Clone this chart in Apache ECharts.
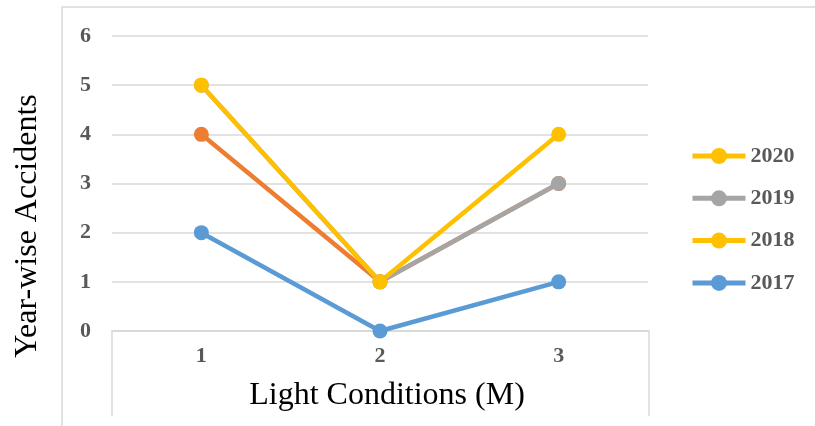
<!DOCTYPE html>
<html><head><meta charset="utf-8">
<script src="https://cdn.jsdelivr.net/npm/echarts@6/dist/echarts.min.js"></script>
<style>html,body{margin:0;padding:0;background:#fff}#c{width:815px;height:426px}</style>
</head><body><div id="c"></div>
<script>
var categories = ['1', '2', '3'];
var s2017 = [2, 0, 1];
var s2018 = [4, 1, 3];
var s2019 = [5, 1, 3];
var s2020 = [5, 1, 4];
var legendOrder = ['2020', '2019', '2018', '2017'];
var yTicks = [0, 1, 2, 3, 4, 5, 6];
var xTitle = 'Light Conditions (M)';
var yTitle = 'Year-wise Accidents';

var FONT = '"Liberation Serif", "Times New Roman", serif';
var chart = echarts.init(document.getElementById('c'));
function ser(name, data, color) {
  return {
    name: name, type: 'line', data: data, symbol: 'circle', symbolSize: 15,
    lineStyle: { width: 4.5, color: color }, itemStyle: { color: color },
    animation: false
  };
}
chart.setOption({
  backgroundColor: '#fff',
  grid: { left: 112, right: 167, top: 36, bottom: 95 },
  xAxis: {
    type: 'category', data: categories, boundaryGap: true,
    axisLine: { show: true, lineStyle: { color: '#d9d9d9', width: 1.5 } },
    axisTick: { show: false },
    axisLabel: { color: '#595959', fontFamily: FONT, fontWeight: 'bold', fontSize: 22, margin: 14 }
  },
  yAxis: {
    type: 'value', min: yTicks[0], max: yTicks[yTicks.length - 1], interval: 1,
    axisLine: { show: false }, axisTick: { show: false },
    splitLine: { lineStyle: { color: '#d9d9d9', width: 1.5 } },
    axisLabel: { color: '#595959', fontFamily: FONT, fontWeight: 'bold', fontSize: 22, margin: 21 }
  },
  legend: {
    orient: 'vertical', left: 690, top: 145, padding: 0, itemWidth: 53, itemHeight: 20, itemGap: 20.3,
    textStyle: { color: '#595959', fontFamily: FONT, fontWeight: 'bold', fontSize: 22, padding: [0, 0, 0, 0] },
    data: legendOrder.map(function (n) {
      var c = { '2020': '#FFC000', '2019': '#A5A5A5', '2018': '#FFC000', '2017': '#5B9BD5' }[n];
      return { name: n, itemStyle: { color: c }, lineStyle: { color: c, width: 5 } };
    })
  },
  graphic: [
    { type: 'polyline', shape: { points: [[815, 7], [62, 7], [62, 426]] }, style: { stroke: '#d9d9d9', lineWidth: 1.5, fill: null }, silent: true },
    { type: 'polyline', shape: { points: [[112, 416], [112, 331], [649, 331], [649, 416]] }, style: { stroke: '#d9d9d9', lineWidth: 1.5, fill: null }, silent: true },
    { type: 'text', x: 387, y: 396, silent: true,
      style: { text: xTitle, fill: '#000', font: '32px ' + FONT, textAlign: 'center', textVerticalAlign: 'middle' } },
    { type: 'text', x: 28, y: 226, rotation: Math.PI / 2, silent: true,
      style: { text: yTitle, fill: '#000', font: '32px ' + FONT, textAlign: 'center', textVerticalAlign: 'middle' } }
  ],
  series: [
    ser('2017', s2017, '#5B9BD5'),
    ser('2018', s2018, '#ED7D31'),
    ser('2019', s2019, '#A5A5A5'),
    ser('2020', s2020, '#FFC000')
  ]
});
</script></body></html>
